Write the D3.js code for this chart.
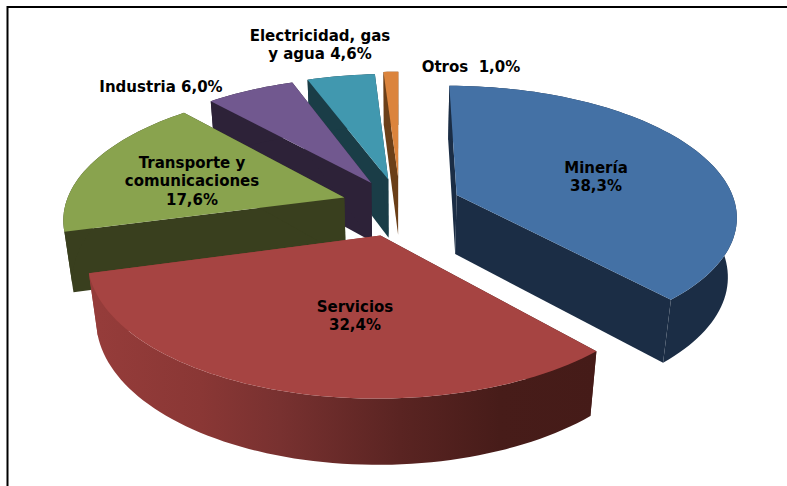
<!DOCTYPE html>
<html><head><meta charset="utf-8">
<script src="https://cdn.jsdelivr.net/npm/d3@7"></script>
<style>html,body{margin:0;padding:0;background:#fff}svg{display:block}
text{font-family:"DejaVu Sans",Verdana,sans-serif;font-weight:bold;fill:#000;font-size:15px}</style>
</head><body><svg id="c" width="787" height="486"></svg>
<script>
const categories = ["Minería","Servicios","Transporte y comunicaciones","Industria","Electricidad, gas y agua","Otros"];
const values = [38.3,32.4,17.6,6.0,4.6,1.0];
const explosion = [0.22,0.24,0.21,0.205,0.21,0.23];
const topColors = ["#4471A5","#A64442","#89A34E","#71588F","#4198AF","#DB843D"];
const wallColors = ["#1B2D45","#451B18","#393F1E","#2D2238","#1A3D47","#6B3F18"];
const labelLines = [["Minería"],["Servicios"],["Transporte y","comunicaciones"],["Industria"],["Electricidad, gas","y agua"],["Otros "]];
const labelInline = [false,false,false,true,true,true];
const labelAt = [[596,173],[355,312],[192,168],[161,92],[320,41],[471,72]];
const drawOrder = [5,4,3,2,0,1];

const cx=400, cy=205, R=279, ry=0.46, persp=0.15, zPersp=0.027, H=61;
const svg = d3.select("#c");

// frame: top and left rules only
svg.append("path").attr("d","M7.5,486V7H787").attr("fill","none").attr("stroke","#000").attr("stroke-width",2);

const arcs = d3.pie().value(d=>d).sort(null).startAngle(0).endAngle(2*Math.PI)(values);

function project(X,Y,z){
  const w = 1 - persp*Y + zPersp*z;
  return [cx + R*X/w, cy + (R*ry*Y + H*z)/w];
}
const line = d3.line();

const defs = svg.append("defs");
const grad = defs.append("linearGradient").attr("id","wallS").attr("gradientUnits","userSpaceOnUse")
  .attr("x1",100).attr("x2",600).attr("y1",0).attr("y2",0);
[[0,"#953C3A"],[0.2,"#8A3735"],[0.36,"#783130"],[0.6,"#5A2422"],[0.8,"#471C19"],[1,"#451B18"]]
  .forEach(([o,c])=>grad.append("stop").attr("offset",o).attr("stop-color",c));

drawOrder.forEach(i=>{
  const a=arcs[i], mid=(a.startAngle+a.endAngle)/2, m=explosion[i];
  const ox=m*Math.sin(mid), oy=-m*Math.cos(mid);
  const P=(ang,r,z)=>project(ox+r*Math.sin(ang),oy-r*Math.cos(ang),z);
  const n=Math.max(4,Math.ceil((a.endAngle-a.startAngle)/0.03));
  const angs=d3.range(n+1).map(k=>a.startAngle+(a.endAngle-a.startAngle)*k/n);
  const g=svg.append("g");
  const wall=i===1?"url(#wallS)":wallColors[i];
  [a.startAngle,a.endAngle].forEach(ang=>{
    g.append("path").attr("d",line([P(ang,0,0),P(ang,1,0),P(ang,1,1),P(ang,0,1)])+"Z")
      .attr("fill",i===1?(ang===a.startAngle?wallColors[1]:"#953C3A"):wallColors[i]);
  });
  const wallPts=angs.map(t=>P(t,1,0)).concat(angs.slice().reverse().map(t=>P(t,1,1)));
  g.append("path").attr("d",line(wallPts)+"Z").attr("fill",wall);
  g.append("path").attr("d",line([P(a.startAngle,0,0)].concat(angs.map(t=>P(t,1,0))))+"Z").attr("fill",topColors[i]);
});

const fmt=v=>v.toFixed(1).replace(".",",")+"%";
categories.forEach((c,i)=>{
  const lines=labelLines[i].slice();
  if(labelInline[i]) lines[lines.length-1]+=" "+fmt(values[i]); else lines.push(fmt(values[i]));
  const t=svg.append("text").attr("text-anchor","middle").attr("x",labelAt[i][0]).attr("y",labelAt[i][1]).attr("xml:space","preserve");
  lines.forEach((l,k)=>t.append("tspan").attr("x",labelAt[i][0]).attr("dy",k?18.3:0).text(l));
});
</script></body></html>
